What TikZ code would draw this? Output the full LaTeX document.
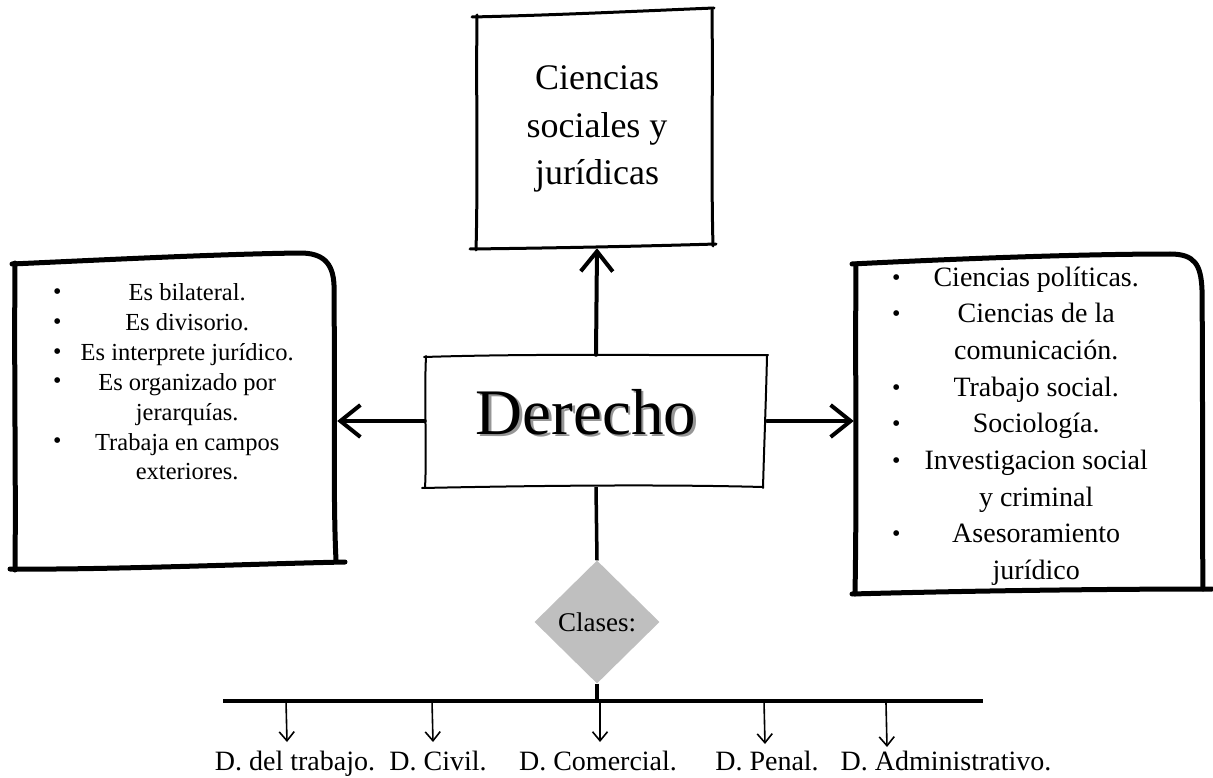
\documentclass[tikz,border=0pt]{standalone}
\usepackage{fontspec}
\setmainfont{Liberation Serif}
\usetikzlibrary{arrows.meta,shapes.geometric}
\definecolor{diagray}{RGB}{191,191,191}
\definecolor{shadowgray}{RGB}{150,150,150}
\newcommand\bitem[1]{\noindent\rlap{\raisebox{1pt}{\fontsize{24pt}{24pt}\selectfont\textbullet}}\makebox[\linewidth]{#1}\par}
\newcommand\citem[1]{\noindent\makebox[\linewidth]{#1}\par}
\begin{document}
\begin{tikzpicture}[x=1pt,y=-1pt,
  sketch/.style={line cap=round,line join=round},
  thinframe/.style={sketch,line width=2pt},
  midframe/.style={sketch,line width=3pt},
  thickframe/.style={sketch,line width=5pt},
  bigarrow/.style={line width=4pt,line cap=round,-{Straight Barb[length=20pt,width=32pt,line width=4pt]}},
  smallarrow/.style={line width=1.6pt,-{Straight Barb[length=9pt,width=15pt,line width=1.6pt]}},
  boxnode/.style={rectangle,draw=none,inner sep=0pt},
  lab/.style={anchor=base,inner sep=0pt,font=\fontsize{28pt}{32pt}\selectfont},
  connector/.style={line width=3.5pt}]
\useasboundingbox (0,0) rectangle (1213,778);

% ---------- nodes ----------
\node[boxnode,minimum width=237pt,minimum height=233pt] (top) at (597,131.5) {};
\node[anchor=base,inner sep=0pt] (toptext) at (597,90)
  {\parbox[t]{220pt}{\centering\fontsize{36pt}{47.5pt}\selectfont Ciencias\\sociales y\\jurídicas}};

\node[boxnode,minimum width=342pt,minimum height=132pt] (der) at (596,421) {};
\node[anchor=base,inner sep=0pt] (dertext) at (586,434)
  {\fontsize{65pt}{70pt}\selectfont\rlap{\kern2.5pt\raisebox{-2.5pt}{\textcolor{shadowgray}{Derecho}}}Derecho};

\node[boxnode,minimum width=323pt,minimum height=305pt] (left) at (175.5,414.5) {};
\node[anchor=base west,inner sep=0pt] (lefttext) at (53,300)
  {\parbox[t]{268pt}{\fontsize{24.5pt}{30pt}\selectfont
   \bitem{Es bilateral.}
   \bitem{Es divisorio.}
   \bitem{Es interprete jurídico.}
   \bitem{Es organizado por}
   \citem{jerarquías.}
   \bitem{Trabaja en campos}
   \citem{exteriores.}}};

\node[boxnode,minimum width=350pt,minimum height=330pt] (right) at (1029,427) {};
\node[anchor=base west,inner sep=0pt] (righttext) at (892,286)
  {\parbox[t]{288pt}{\fontsize{28pt}{36.7pt}\selectfont
   \bitem{Ciencias políticas.}
   \bitem{Ciencias de la}
   \citem{comunicación.}
   \bitem{Trabajo social.}
   \bitem{Sociología.}
   \bitem{Investigacion social}
   \citem{y criminal}
   \bitem{Asesoramiento}
   \citem{jurídico}}};

\node[diamond,fill=diagray,minimum width=125pt,minimum height=123pt,inner sep=0pt,
      font=\fontsize{27pt}{30pt}\selectfont] (dia) at (597,622) {Clases:};

\node[lab] (l1) at (295,770) {D. del trabajo.};
\node[lab] (l2) at (438,770) {D. Civil.};
\node[lab] (l3) at (598,770) {D. Comercial.};
\node[lab] (l4) at (767,770) {D. Penal.};
\node[lab] (l5) at (946,770) {D. Administrativo.};

% ---------- sketchy frames ----------
\draw[midframe] (472,17) .. controls (560,15) and (640,11) .. (714,8);
\draw[midframe] (477,15) .. controls (476,90) and (478,180) .. (476,250);
\draw[midframe] (470,249) .. controls (560,248) and (650,246) .. (716,244);
\draw[midframe] (712,10) .. controls (713,90) and (711,170) .. (713,246);

\draw[thinframe] (424,357) .. controls (550,353) and (680,356) .. (768,355);
\draw[thinframe] (767,356) .. controls (766,400) and (764,450) .. (763,488);
\draw[thinframe] (763,487) .. controls (650,484) and (520,486) .. (422,488);
\draw[thinframe] (426,356) .. controls (424,400) and (427,450) .. (425,488);

\draw[thickframe] (12,264) .. controls (100,260) and (220,254) .. (300,253)
   .. controls (322,253) and (333,262) .. (334,285)
   .. controls (335,400) and (333,500) .. (336,560);
\draw[thickframe] (345,562) .. controls (250,564) and (100,570) .. (10,569);
\draw[thickframe] (15,263) .. controls (14,380) and (16,480) .. (15,570);

\draw[thickframe] (852,264) .. controls (950,259) and (1080,254) .. (1170,254)
   .. controls (1195,254) and (1201,265) .. (1202,290)
   .. controls (1203,400) and (1202,500) .. (1203,589);
\draw[thickframe] (1212,589) .. controls (1100,589) and (960,591) .. (852,594);
\draw[thickframe] (856,264) .. controls (855,380) and (857,480) .. (855,594);

% ---------- connectors ----------
\draw[bigarrow] (der.north) -- (top.south);
\draw[bigarrow] (der.west) -- (der.west -| left.east);
\draw[bigarrow] (der.east) -- (der.east -| right.west);
\draw[connector] (der.south) -- (dia.north);

\coordinate (hl) at (223,701);
\coordinate (hr) at (983,701);
\draw[line width=4.5pt] (hl) -- (hr);
\draw[connector] (dia.south) -- (dia.south |- hl);

\coordinate (a1) at (286,701); \coordinate (t1) at (287,742);
\coordinate (a2) at (432,701); \coordinate (t2) at (433,742);
\coordinate (a3) at (600,701); \coordinate (t3) at (600,742);
\coordinate (a4) at (764,701); \coordinate (t4) at (765,744);
\coordinate (a5) at (886,703); \coordinate (t5) at (887,747);
\draw[smallarrow] (a1) -- (t1);
\draw[smallarrow] (a2) -- (t2);
\draw[smallarrow] (a3) -- (t3);
\draw[smallarrow] (a4) -- (t4);
\draw[smallarrow] (a5) -- (t5);
\end{tikzpicture}
\end{document}
